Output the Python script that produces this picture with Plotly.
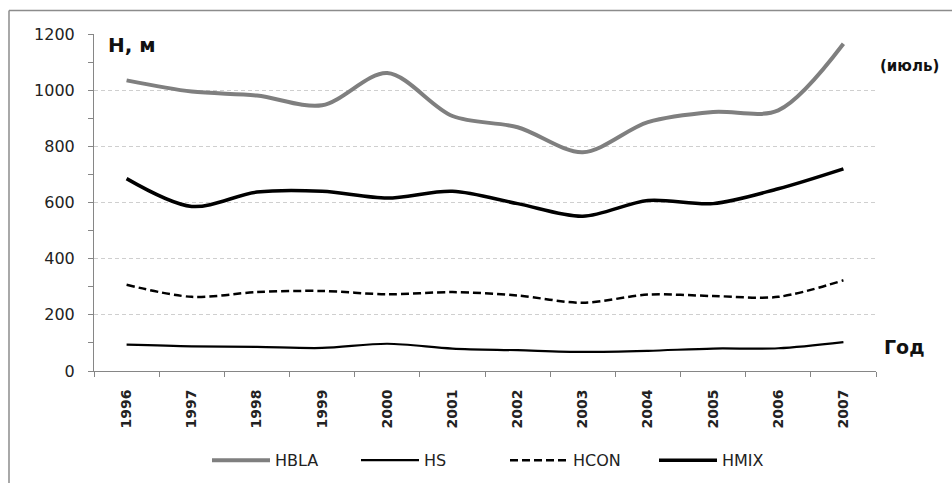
import plotly.graph_objects as go

# Годы наблюдений (июль)
years = ["1996", "1997", "1998", "1999", "2000", "2001",
         "2002", "2003", "2004", "2005", "2006", "2007"]

# Высоты слоёв, м
hbla = [1035, 995, 981, 946, 1061, 908, 868, 779, 886, 922, 928, 1165]
hs = [94, 88, 86, 82, 97, 80, 74, 68, 72, 80, 81, 103]
hcon = [307, 264, 281, 285, 273, 281, 269, 243, 272, 267, 264, 323]
hmix = [685, 586, 637, 640, 616, 640, 596, 551, 607, 596, 649, 720]

y_ticks = [0, 200, 400, 600, 800, 1000, 1200]

fig = go.Figure()

fig.add_trace(go.Scatter(
    x=years, y=hbla, name="HBLA", mode="lines",
    line=dict(color="#7f7f7f", width=4, shape="spline", smoothing=0.9)))
fig.add_trace(go.Scatter(
    x=years, y=hs, name="HS", mode="lines",
    line=dict(color="#000000", width=2.2, shape="spline", smoothing=0.9)))
fig.add_trace(go.Scatter(
    x=years, y=hcon, name="HCON", mode="lines",
    line=dict(color="#000000", width=2.5, dash="8px,4px",
              shape="spline", smoothing=0.9)))
fig.add_trace(go.Scatter(
    x=years, y=hmix, name="HMIX", mode="lines",
    line=dict(color="#000000", width=3.5, shape="spline", smoothing=0.9)))

axis_gray = "#868686"

fig.update_layout(
    width=952, height=483,
    margin=dict(l=94, r=76, t=33.5, b=112.3, autoexpand=False),
    paper_bgcolor="white", plot_bgcolor="white",
    font=dict(family="DejaVu Sans", color="#222222"),
    showlegend=True,
    legend=dict(
        orientation="h", x=0.1445, xanchor="left",
        y=-0.265, yanchor="middle",
        font=dict(family="DejaVu Sans", size=16, color="#222222"),
        itemwidth=58,
        entrywidth=76, entrywidthmode="pixels",
        bgcolor="rgba(0,0,0,0)",
    ),
    xaxis=dict(
        type="category",
        tickson="boundaries",
        ticks="outside", ticklen=5, tickcolor=axis_gray,
        showline=True, linecolor=axis_gray, linewidth=1,
        showgrid=False, zeroline=False,
        tickangle=-90,
        tickfont=dict(family="DejaVu Sans", size=14, color="#222222",
                      weight="bold"),
        ticklabelstandoff=12,
        range=[-0.5, 11.5],
        automargin=False,
        fixedrange=True,
    ),
    yaxis=dict(
        range=[0, 1200],
        tickvals=y_ticks,
        ticks="outside", ticklen=5, tickcolor=axis_gray,
        showline=True, linecolor=axis_gray, linewidth=1,
        showgrid=True, gridcolor="#cfcfcf", gridwidth=1, griddash="4px,3px",
        zeroline=False,
        tickfont=dict(family="DejaVu Sans", size=16, color="#222222"),
        ticklabelstandoff=10,
        minor=dict(dtick=100, ticks="outside", ticklen=5,
                   tickcolor=axis_gray, showgrid=False),
        automargin=False,
        fixedrange=True,
    ),
    annotations=[
        dict(text="<b>Н, м</b>", xref="paper", yref="paper",
             x=0.015, y=1.009, xanchor="left", yanchor="top",
             showarrow=False,
             font=dict(family="DejaVu Sans", size=20, color="#111111")),
        dict(text="<b>(июль)</b>", xref="paper", yref="paper",
             x=1.003, y=0.904, xanchor="left", yanchor="middle",
             showarrow=False,
             font=dict(family="DejaVu Sans", size=15, color="#111111")),
        dict(text="<b>Год</b>", xref="paper", yref="paper",
             x=1.008, y=0.07, xanchor="left", yanchor="middle",
             showarrow=False,
             font=dict(family="DejaVu Sans", size=19, color="#111111")),
    ],
    shapes=[
        # рамка области диаграммы (левая и верхняя стороны)
        dict(type="line", xref="paper", yref="paper",
             x0=-0.1087, x1=1.2, y0=1.0697, y1=1.0697,
             line=dict(color="#8c8c8c", width=1.5)),
        dict(type="line", xref="paper", yref="paper",
             x0=-0.1087, x1=-0.1087, y0=1.0697, y1=-0.4,
             line=dict(color="#8c8c8c", width=1.5)),
    ],
)

fig.write_html("out.html")
